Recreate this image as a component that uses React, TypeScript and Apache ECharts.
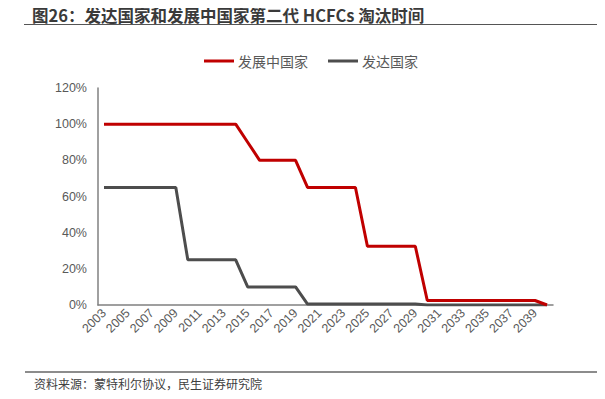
import React, { useEffect, useRef } from "react";
import * as echarts from "echarts";

const years: string[] = [
  "2003","2004","2005","2006","2007","2008","2009","2010","2011","2012",
  "2013","2014","2015","2016","2017","2018","2019","2020","2021","2022",
  "2023","2024","2025","2026","2027","2028","2029","2030","2031","2032",
  "2033","2034","2035","2036","2037","2038","2039","2040",
];

// 发展中国家 (%)
const developing: number[] = [
  100,100,100,100,100,100,100,100,100,100,
  100,100,90,80,80,80,80,65,65,65,
  65,65,32.5,32.5,32.5,32.5,32.5,2.5,2.5,2.5,
  2.5,2.5,2.5,2.5,2.5,2.5,2.5,0,
];

// 发达国家 (%)
const developed: number[] = [
  65,65,65,65,65,65,65,25,25,25,
  25,25,10,10,10,10,10,0.5,0.5,0.5,
  0.5,0.5,0.5,0.5,0.5,0.5,0.5,0,0,0,
  0,0,0,0,0,0,0,0,
];

const seriesNames = ["发展中国家", "发达国家"];
const titleText = "图26：发达国家和发展中国家第二代 HCFCs 淘汰时间";
const sourceText = "资料来源：蒙特利尔协议，民生证券研究院";

export default function App() {
  const ref = useRef<HTMLDivElement>(null);
  useEffect(() => {
    if (!ref.current) return;
    const chart = echarts.init(ref.current, undefined, { renderer: "svg" });
    const font = "'Noto Sans CJK SC', 'Noto Sans', sans-serif";
    chart.setOption({
      animation: false,
      textStyle: { fontFamily: font },
      title: {
        text: titleText,
        left: 27,
        top: 2,
        textStyle: { fontSize: 16.5, fontWeight: "bold", color: "#3a3a3a", fontFamily: font },
      },
      legend: {
        data: seriesNames,
        top: 49,
        left: 199,
        itemWidth: 30,
        itemHeight: 3,
        itemGap: 20,
        icon: "rect",
        textStyle: { fontSize: 14, color: "#595959", padding: [0, 0, 0, -1] },
      },
      grid: { left: 98, right: 52, top: 88, bottom: 94 },
      xAxis: {
        type: "category",
        data: years,
        boundaryGap: true,
        axisLine: { lineStyle: { color: "#808080", width: 1.5 } },
        axisTick: { show: false },
        axisLabel: {
          interval: 1,
          rotate: 45,
          fontSize: 12.5,
          color: "#595959",
          margin: 6,
          fontFamily: "'Liberation Sans', Arial, sans-serif",
        },
      },
      yAxis: {
        type: "value",
        min: 0,
        max: 120,
        interval: 20,
        splitLine: { show: false },
        axisLine: { show: true, lineStyle: { color: "#808080", width: 1.5 } },
        axisTick: { show: false },
        axisLabel: {
          formatter: "{value}%",
          fontSize: 12.5,
          color: "#595959",
          margin: 11,
          fontFamily: "'Liberation Sans', Arial, sans-serif",
        },
      },
      series: [
        {
          name: seriesNames[0],
          type: "line",
          data: developing,
          showSymbol: false,
          symbol: "none",
          lineStyle: { color: "#C00000", width: 3 },
          itemStyle: { color: "#C00000" },
          z: 3,
        },
        {
          name: seriesNames[1],
          type: "line",
          data: developed,
          showSymbol: false,
          symbol: "none",
          lineStyle: { color: "#4d4d4d", width: 3 },
          itemStyle: { color: "#4d4d4d" },
          z: 2,
        },
      ],
      graphic: [
        {
          type: "line",
          shape: { x1: 24, y1: 24.5, x2: 598, y2: 24.5 },
          style: { stroke: "#555", lineWidth: 1 },
        },
        {
          type: "line",
          shape: { x1: 25, y1: 372, x2: 597, y2: 372 },
          style: { stroke: "#666", lineWidth: 1.5 },
        },
        {
          type: "text",
          left: 34,
          top: 377,
          style: { text: sourceText, fontSize: 12, fill: "#404040", fontFamily: font },
        },
      ],
    });
    return () => chart.dispose();
  }, []);
  return <div ref={ref} style={{ width: 605, height: 399, margin: -8 }} />;
}
